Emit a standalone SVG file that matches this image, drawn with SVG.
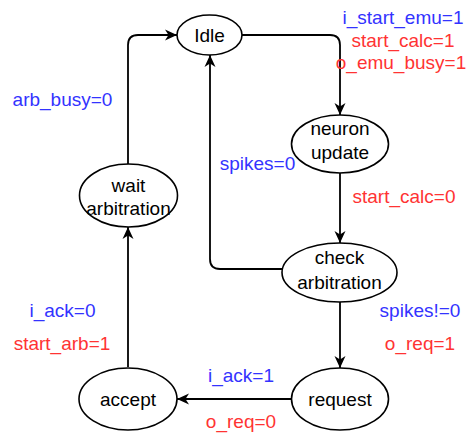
<svg xmlns="http://www.w3.org/2000/svg" width="468" height="434" viewBox="0 0 468 434">
  <style>
    .state { fill: #ffffff; stroke: #000000; stroke-width: 1.6; }
    .name { font-family: "Liberation Sans", Arial, sans-serif; font-size: 19px; fill: #000000; text-anchor: middle; dominant-baseline: central; }
    .lbl { font-family: "Liberation Sans", Arial, sans-serif; font-size: 19px; text-anchor: middle; dominant-baseline: central; }
    .in { fill: #3333FF; }
    .out { fill: #FF3333; }
    .edge { fill: none; stroke: #000000; stroke-width: 1.8; }
  </style>
  <defs>
    <marker id="arrow" markerUnits="userSpaceOnUse" viewBox="0 0 12 12" markerWidth="12" markerHeight="12" refX="12" refY="6" orient="auto">
      <path d="M0,0.5 L12,6 L0,11.5 L3.5,6 Z" fill="#000000"/>
    </marker>
  </defs>

  <rect width="468" height="434" fill="#ffffff"/>

  <!-- transitions -->
  <g id="connectors">
    <path class="edge" d="M242,35 H330 Q340,35 340,45 V115" marker-end="url(#arrow)"/>
    <path class="edge" d="M340,173 V243" marker-end="url(#arrow)"/>
    <path class="edge" d="M282,269 H220 Q210,269 210,259 V55" marker-end="url(#arrow)"/>
    <path class="edge" d="M340,302 V368" marker-end="url(#arrow)"/>
    <path class="edge" d="M291,399 H177" marker-end="url(#arrow)"/>
    <path class="edge" d="M128,367 V227" marker-end="url(#arrow)"/>
    <path class="edge" d="M128,164 V45 Q128,35 138,35 H177" marker-end="url(#arrow)"/>
  </g>

  <!-- states -->
  <g id="idle">
    <ellipse class="state" cx="209.5" cy="35" rx="32.5" ry="20"/>
    <text class="name" x="209.5" y="35">Idle</text>
  </g>
  <g id="neuron-update">
    <ellipse class="state" cx="340" cy="144" rx="48.5" ry="29"/>
    <text class="name" x="340" y="128">neuron</text>
    <text class="name" x="340" y="152">update</text>
  </g>
  <g id="check-arbitration">
    <ellipse class="state" cx="339.5" cy="272.5" rx="57.5" ry="29.5"/>
    <text class="name" x="339.5" y="257">check</text>
    <text class="name" x="339.5" y="282">arbitration</text>
  </g>
  <g id="request">
    <ellipse class="state" cx="340" cy="399" rx="48.5" ry="31"/>
    <text class="name" x="340" y="399">request</text>
  </g>
  <g id="accept">
    <ellipse class="state" cx="128" cy="399" rx="49" ry="31"/>
    <text class="name" x="128" y="399">accept</text>
  </g>
  <g id="wait-arbitration">
    <ellipse class="state" cx="128.5" cy="195.5" rx="49" ry="31.5"/>
    <text class="name" x="128.5" y="185">wait</text>
    <text class="name" x="128.5" y="208">arbitration</text>
  </g>

  <!-- transition conditions and outputs -->
  <g id="labels">
    <text class="lbl in" x="403" y="17">i_start_emu=1</text>
    <text class="lbl out" x="403" y="40">start_calc=1</text>
    <text class="lbl out" x="401" y="62">o_emu_busy=1</text>
    <text class="lbl in" x="62.5" y="99">arb_busy=0</text>
    <text class="lbl in" x="257.5" y="163">spikes=0</text>
    <text class="lbl out" x="404" y="196">start_calc=0</text>
    <text class="lbl in" x="420" y="310">spikes!=0</text>
    <text class="lbl out" x="420" y="343">o_req=1</text>
    <text class="lbl in" x="62.5" y="310">i_ack=0</text>
    <text class="lbl out" x="62" y="343">start_arb=1</text>
    <text class="lbl in" x="241" y="375">i_ack=1</text>
    <text class="lbl out" x="241" y="421">o_req=0</text>
  </g>
</svg>
